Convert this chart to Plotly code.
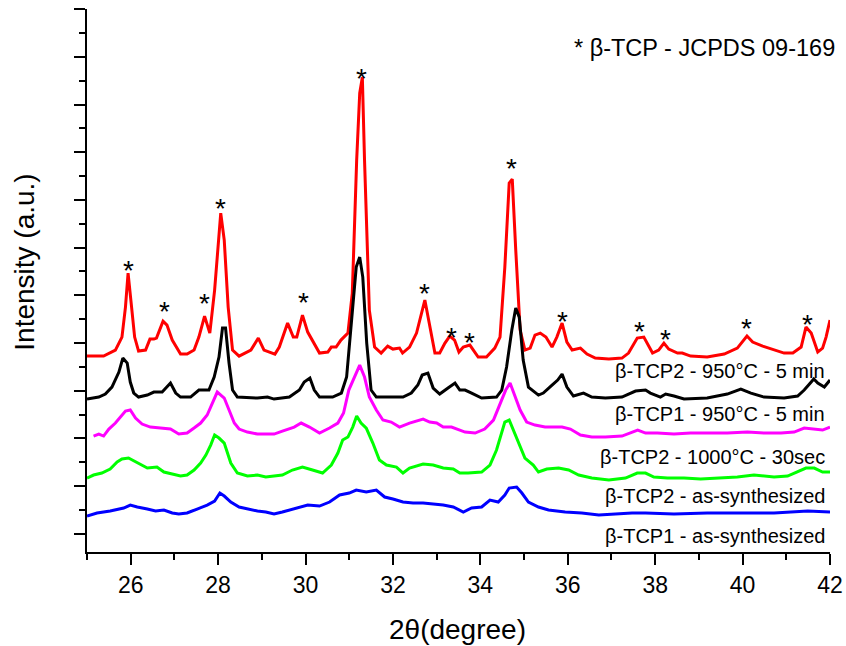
import plotly.graph_objects as go

# ---- data (2theta in degrees, intensity in arbitrary units, already offset) ----
red_pts = [(25.0,196),(25.38,196),(25.65,202),(25.80,215),(25.88,245),(25.94,279),(26.02,245),(26.09,215),(26.18,201),(26.34,202),(26.44,213),(26.53,213),(26.59,214),(26.74,231),(26.83,227),(26.95,212),(27.14,198),(27.29,198),(27.45,202),(27.56,215),(27.69,236),(27.81,219),(27.92,262),(28.06,339),(28.14,312),(28.23,245),(28.33,202),(28.48,196),(28.75,202),(28.92,214),(29.05,202),(29.30,198),(29.40,205),(29.59,229),(29.72,215),(29.80,215),(29.93,237),(30.05,220),(30.32,199),(30.51,200),(30.59,205),(30.70,205),(30.81,212),(30.97,219),(31.07,259),(31.17,392),(31.24,459),(31.30,475),(31.35,392),(31.46,242),(31.58,205),(31.73,199),(31.88,206),(32.00,203),(32.15,204),(32.22,199),(32.38,205),(32.54,219),(32.73,252),(32.84,225),(32.96,199),(33.07,199),(33.19,209),(33.30,216),(33.41,212),(33.51,200),(33.61,205),(33.76,207),(33.84,202),(33.95,195),(34.14,195),(34.33,204),(34.45,215),(34.56,285),(34.66,369),(34.73,373),(34.81,302),(34.91,222),(35.02,202),(35.14,204),(35.25,217),(35.37,219),(35.50,215),(35.64,205),(35.75,215),(35.87,229),(35.98,210),(36.10,202),(36.29,204),(36.44,198),(36.63,194),(36.94,193),(37.24,194),(37.39,199),(37.59,214),(37.74,215),(37.94,199),(38.08,202),(38.20,209),(38.31,203),(38.51,199),(38.62,199),(38.81,196),(39.19,195),(39.58,198),(39.88,204),(40.10,216),(40.23,210),(40.46,206),(40.69,203),(40.95,199),(41.15,199),(41.34,205),(41.45,225),(41.57,219),(41.72,200),(41.83,204),(41.91,215),(42.0,232)]

black_pts = [(25.0,153),(25.27,155),(25.42,158),(25.57,165),(25.73,180),(25.82,194),(25.92,189),(25.99,170),(26.07,159),(26.18,155),(26.38,157),(26.53,160),(26.72,160),(26.91,169),(27.03,159),(27.14,155),(27.37,155),(27.56,162),(27.79,162),(27.91,175),(28.02,195),(28.10,224),(28.17,224),(28.25,189),(28.33,162),(28.44,155),(28.90,154),(29.13,155),(29.28,153),(29.63,155),(29.86,162),(29.97,170),(30.10,174),(30.20,162),(30.32,155),(30.62,155),(30.82,159),(30.94,175),(31.04,225),(31.16,285),(31.24,295),(31.31,275),(31.40,209),(31.50,162),(31.62,155),(31.85,155),(32.23,155),(32.42,159),(32.57,167),(32.67,177),(32.80,179),(32.92,164),(33.07,158),(33.26,164),(33.42,169),(33.53,162),(33.65,162),(33.80,159),(34.03,154),(34.37,155),(34.49,162),(34.60,185),(34.72,222),(34.81,244),(34.89,235),(34.98,192),(35.10,165),(35.33,157),(35.44,159),(35.64,167),(35.77,172),(35.87,178),(35.98,165),(36.13,156),(36.36,159),(36.55,155),(36.86,154),(37.24,155),(37.55,161),(37.78,162),(37.89,159),(38.12,155),(38.24,158),(38.43,156),(38.66,153),(39.19,154),(39.65,158),(39.96,163),(40.19,159),(40.49,155),(40.95,154),(41.26,156),(41.41,162),(41.53,168),(41.63,173),(41.72,169),(41.87,165),(42.0,172)]

magenta_pts = [(25.15,116),(25.27,118),(25.38,116),(25.50,123),(25.65,129),(25.76,135),(25.88,141),(25.99,142),(26.11,134),(26.26,128),(26.45,125),(26.68,124),(26.91,123),(27.10,118),(27.29,119),(27.45,124),(27.60,129),(27.75,137),(27.87,150),(27.98,160),(28.14,154),(28.25,142),(28.37,129),(28.48,123),(28.67,120),(28.90,118),(29.28,118),(29.47,121),(29.74,125),(29.90,129),(30.09,125),(30.32,119),(30.55,124),(30.74,129),(30.87,139),(30.99,162),(31.12,175),(31.24,187),(31.35,175),(31.46,155),(31.62,142),(31.77,132),(31.96,130),(32.15,125),(32.38,129),(32.54,131),(32.69,133),(32.84,130),(33.00,129),(33.15,125),(33.34,125),(33.53,122),(33.65,120),(33.88,119),(34.10,123),(34.30,132),(34.45,149),(34.58,162),(34.68,169),(34.79,155),(34.91,142),(35.06,130),(35.25,127),(35.48,125),(35.71,125),(35.87,125),(36.06,123),(36.29,117),(36.55,115),(36.86,115),(37.24,116),(37.60,122),(37.78,119),(38.05,119),(38.43,118),(38.81,119),(39.19,119),(39.65,119),(40.11,120),(40.49,119),(40.88,119),(41.18,120),(41.41,124),(41.64,123),(41.83,122),(42.0,125)]

green_pts = [(25.0,74),(25.15,77),(25.34,79),(25.53,83),(25.69,90),(25.80,93),(25.95,94),(26.15,89),(26.38,84),(26.60,85),(26.76,80),(26.95,78),(27.14,76),(27.29,77),(27.45,82),(27.60,89),(27.72,97),(27.83,107),(27.92,117),(28.02,114),(28.14,109),(28.29,89),(28.44,79),(28.67,76),(28.90,77),(29.09,75),(29.28,76),(29.47,77),(29.70,82),(29.93,85),(30.16,82),(30.39,79),(30.59,87),(30.74,99),(30.85,112),(30.97,115),(31.08,125),(31.17,136),(31.27,129),(31.39,124),(31.54,109),(31.69,92),(31.85,87),(32.08,85),(32.23,79),(32.38,84),(32.69,88),(32.92,87),(33.15,84),(33.38,83),(33.53,79),(33.72,79),(34.03,80),(34.22,87),(34.37,102),(34.49,119),(34.56,130),(34.66,132),(34.75,122),(34.87,109),(35.02,94),(35.21,87),(35.33,80),(35.52,83),(35.79,84),(36.02,82),(36.25,77),(36.55,74),(36.94,72),(37.32,74),(37.59,79),(37.78,79),(37.97,75),(38.28,74),(38.66,74),(39.04,73),(39.50,74),(39.88,75),(40.26,77),(40.72,75),(41.03,76),(41.26,80),(41.45,84),(41.64,84),(41.83,80),(42.0,80)]

blue_pts = [(25.0,36),(25.23,39),(25.53,41),(25.84,44),(25.99,47),(26.15,45),(26.38,43),(26.57,41),(26.76,42),(26.95,39),(27.10,38),(27.29,39),(27.52,43),(27.75,47),(27.92,51),(28.04,59),(28.14,56),(28.29,50),(28.48,45),(28.67,43),(28.90,41),(29.09,40),(29.28,38),(29.47,40),(29.78,44),(30.05,47),(30.32,46),(30.55,50),(30.78,57),(31.00,59),(31.16,62),(31.39,60),(31.62,62),(31.81,55),(32.00,53),(32.23,50),(32.46,49),(32.69,49),(32.92,48),(33.15,47),(33.38,45),(33.61,40),(33.80,44),(34.03,45),(34.22,52),(34.41,50),(34.56,57),(34.66,64),(34.83,65),(34.95,59),(35.10,50),(35.33,45),(35.56,42),(35.94,40),(36.32,39),(36.71,37),(37.09,38),(37.47,39),(37.78,39),(38.43,38),(39.19,39),(39.96,39),(40.72,39),(41.49,41),(42.0,40)]

# beta-TCP reflection markers (2theta, height)
star_pts = [(25.94,287),(26.78,246),(27.69,254),(28.06,349),(29.96,255),(31.28,479),(32.73,264),(33.33,220),(33.76,215),(34.72,389),(35.89,236),(37.65,226),(38.24,218),(40.10,229),(41.49,233)]

series_names = ["β-TCP2 - 950°C - 5 min", "β-TCP1 - 950°C - 5 min", "β-TCP2 - 1000°C - 30sec",
                "β-TCP2 - as-synthesized", "β-TCP1 - as-synthesized"]
series_colors = ["#FF0000", "#000000", "#FF00FF", "#00FF00", "#0000FF"]
series_data = [red_pts, black_pts, magenta_pts, green_pts, blue_pts]
label_heights = [181, 138, 95, 56, 16]

x_ticks = [26, 28, 30, 32, 34, 36, 38, 40, 42]

FONT = "Arial, Liberation Sans, sans-serif"

fig = go.Figure()
for name, color, pts in zip(series_names, series_colors, series_data):
    fig.add_trace(go.Scatter(
        x=[p[0] for p in pts], y=[p[1] for p in pts], mode="lines", name=name,
        line=dict(color=color, width=3), showlegend=False))

annotations = []
for sx, sy in star_pts:
    annotations.append(dict(x=sx, y=sy, xref="x", yref="y", text="*", showarrow=False,
                            font=dict(family=FONT, size=28, color="black"),
                            xanchor="center", yanchor="middle", yshift=-5))
for name, ly in zip(series_names, label_heights):
    annotations.append(dict(x=41.92, y=ly, xref="x", yref="y", text=name, showarrow=False,
                            font=dict(family=FONT, size=20, color="black"),
                            xanchor="right", yanchor="middle"))
annotations.append(dict(x=1.009, y=0.929, xref="paper", yref="paper",
                        text="* β-TCP - JCPDS 09-169", showarrow=False,
                        font=dict(family=FONT, size=23.5, color="black"),
                        xanchor="right", yanchor="middle"))
annotations.append(dict(x=0.4988, y=-0.1429, xref="paper", yref="paper",
                        text="2θ(degree)", showarrow=False,
                        font=dict(family=FONT, size=28, color="black"),
                        xanchor="center", yanchor="middle"))
annotations.append(dict(x=-0.0834, y=0.5328, xref="paper", yref="paper",
                        text="Intensity (a.u.)", showarrow=False, textangle=-90,
                        font=dict(family=FONT, size=28, color="black"),
                        xanchor="center", yanchor="middle"))

fig.update_layout(
    width=846, height=646, autosize=False,
    margin=dict(l=87, r=16, t=9, b=94, pad=0, autoexpand=False),
    paper_bgcolor="white", plot_bgcolor="white",
    font=dict(family=FONT, color="black"),
    showlegend=False,
    annotations=annotations,
    xaxis=dict(range=[25, 42], tickmode="array", tickvals=x_ticks,
               ticktext=[str(t) for t in x_ticks], automargin=False,
               showline=True, linecolor="black", linewidth=2,
               ticks="outside", ticklen=11, tickwidth=2, tickcolor="black",
               minor=dict(ticks="outside", ticklen=6, tickwidth=2, tickcolor="black",
                          dtick=1, tick0=25),
               showgrid=False, zeroline=False,
               tickfont=dict(family=FONT, size=23, color="black")),
    yaxis=dict(range=[0, 543.2], tickmode="linear", tick0=18.3, dtick=47.7,
               automargin=False,
               showline=True, linecolor="black", linewidth=2,
               ticks="outside", ticklen=11, tickwidth=2, tickcolor="black",
               minor=dict(ticks="outside", ticklen=6, tickwidth=2, tickcolor="black",
                          dtick=23.85, tick0=18.3),
               showticklabels=False, showgrid=False, zeroline=False),
)

fig.write_html("out.html", config={"displayModeBar": False},
               post_script="document.body.style.margin='0px';document.body.style.overflow='hidden';")
